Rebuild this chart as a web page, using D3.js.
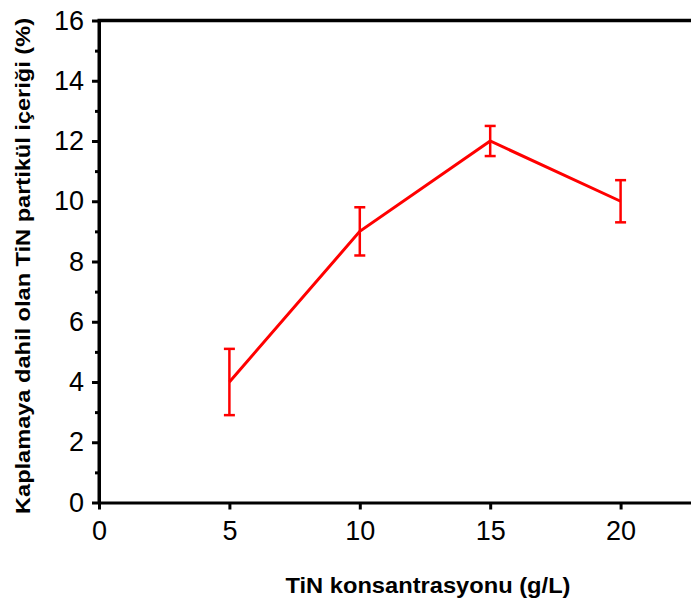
<!DOCTYPE html>
<html><head><meta charset="utf-8">
<script src="https://cdn.jsdelivr.net/npm/d3@7"></script>
<style>body{margin:0;background:#fff}svg{display:block}</style>
</head><body>
<svg id="c" width="691" height="603"></svg>
<script>
const xValues = [5, 10, 15, 20];
const yValues = [4, 9, 12, 10];
const yLow = [2.9, 8.2, 11.5, 9.3];
const yHigh = [5.1, 9.8, 12.5, 10.7];
const xTicks = [0, 5, 10, 15, 20];
const yTicks = [0, 2, 4, 6, 8, 10, 12, 14, 16];
const yMinor = [1, 3, 5, 7, 9, 11, 13, 15];
const xTitle = "TiN konsantrasyonu (g/L)";
const yTitle = "Kaplamaya dahil olan TiN partikül içeriği (%)";

const svg = d3.select("#c");
const L = 99, R = 691, T = 20.5, B = 502.5;
const x = d3.scaleLinear().domain([0, 22.7]).range([L, R]);
const y = d3.scaleLinear().domain([0, 16]).range([B, T]);
const font = "'Liberation Sans', Arial, sans-serif";

const xa = svg.append("g").attr("transform", `translate(0,${B})`)
  .call(d3.axisBottom(x).tickValues(xTicks).tickSize(7).tickSizeOuter(0).tickPadding(11));
const ya = svg.append("g").attr("transform", `translate(${L},0)`)
  .call(d3.axisLeft(y).tickValues(yTicks).tickSize(7).tickSizeOuter(0).tickPadding(8));
const ym = svg.append("g").attr("transform", `translate(${L},0)`)
  .call(d3.axisLeft(y).tickValues(yMinor).tickSize(4).tickFormat("").tickSizeOuter(0));
ym.select(".domain").remove();
[xa, ya, ym].forEach(g => {
  g.select(".domain").attr("stroke", "#000").attr("stroke-width", 3);
  g.selectAll(".tick line").attr("stroke", "#000").attr("stroke-width", 3);
  g.selectAll(".tick text").attr("font-family", font).attr("font-size", 27).attr("fill", "#000");
});
svg.append("line").attr("x1", L - 1.5).attr("x2", R).attr("y1", T).attr("y2", T)
  .attr("stroke", "#000").attr("stroke-width", 3.5);
svg.append("line").attr("x1", L).attr("x2", L).attr("y1", T).attr("y2", B)
  .attr("stroke", "#000").attr("stroke-width", 3);

const pts = xValues.map((v, i) => [x(v), y(yValues[i])]);
svg.append("path").attr("d", d3.line()(pts)).attr("fill", "none")
  .attr("stroke", "#ff0000").attr("stroke-width", 3);

const eb = svg.append("g").attr("stroke", "#ff0000").attr("stroke-width", 2.5);
xValues.forEach((v, i) => {
  const cx = x(v);
  eb.append("line").attr("x1", cx).attr("x2", cx).attr("y1", y(yLow[i])).attr("y2", y(yHigh[i]));
  eb.append("line").attr("x1", cx - 5.5).attr("x2", cx + 5.5).attr("y1", y(yLow[i])).attr("y2", y(yLow[i]));
  eb.append("line").attr("x1", cx - 5.5).attr("x2", cx + 5.5).attr("y1", y(yHigh[i])).attr("y2", y(yHigh[i]));
});

svg.append("text").attr("x", 428).attr("y", 593).attr("text-anchor", "middle")
  .attr("font-family", font).attr("font-weight", "bold").attr("font-size", 22)
  .attr("textLength", 285).attr("lengthAdjust", "spacingAndGlyphs").text(xTitle);
svg.append("text").attr("transform", "translate(30,266) rotate(-90)").attr("text-anchor", "middle")
  .attr("font-family", font).attr("font-weight", "bold").attr("font-size", 20)
  .attr("textLength", 496).attr("lengthAdjust", "spacingAndGlyphs").text(yTitle);
</script>
</body></html>
